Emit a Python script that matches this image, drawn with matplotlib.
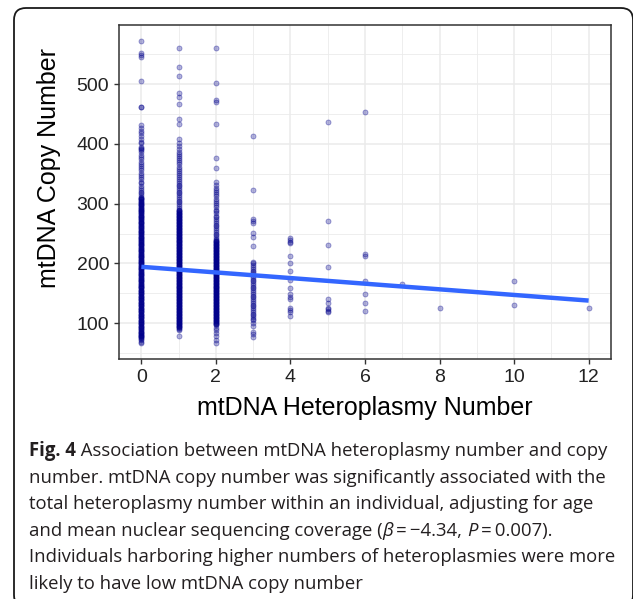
import matplotlib
matplotlib.use("Agg")
import matplotlib.pyplot as plt
from matplotlib.colors import to_rgba
from matplotlib.patches import FancyBboxPatch

# copy number per heteroplasmy count
copy_0 = [573, 552, 549, 546, 505, 462, 461, 431, 426, 421, 418, 414, 409, 404,
          401, 395, 393, 391, 389, 386, 382, 378, 374, 370, 367, 363, 359, 356,
          352, 348, 345, 341, 337, 334, 330, 327, 323, 320, 317, 314,
          311, 310, 309, 308, 307, 306, 304, 303, 302, 301, 300, 299, 298, 297,
          296, 294, 293, 292, 291, 290, 289, 288, 287, 286, 285, 284, 282, 281,
          280, 279, 278, 277, 276, 275, 274, 272, 271, 270, 269, 268, 267, 266,
          264, 263, 262, 261, 260, 259, 258, 256, 255, 254, 253, 252, 251, 250,
          249, 248, 246, 245, 244, 243, 242, 241, 240, 239, 238, 236, 235, 234,
          233, 232, 231, 230, 229, 228, 226, 225, 224, 223, 222, 221, 220, 219,
          218, 216, 215, 214, 213, 212, 211, 210, 209, 208, 206, 205, 204, 203,
          202, 201, 200, 199, 198, 196, 195, 194, 193, 192, 191, 190, 189, 188,
          186, 185, 184, 183, 182, 181, 180, 179, 178, 176, 175, 174, 173, 172,
          171, 170, 169, 168, 166, 165, 164, 163, 162, 161, 160, 159, 158, 156,
          155, 154, 153, 152, 151, 150, 149, 148, 146, 145, 144, 143, 142, 141,
          140, 139, 138, 136, 135, 134, 133, 132, 131, 130, 129, 128, 126, 125,
          124, 123, 122, 121, 120, 119, 118, 116, 115, 114, 113, 112, 111, 110,
          109, 108, 106, 105, 104, 103, 102, 101, 100, 99, 98, 96, 95, 94, 93,
          92, 91, 90, 89, 87, 86, 85, 84, 83, 82, 81, 80, 79, 78, 77, 76, 75,
          74, 72, 69, 66]
copy_1 = [560, 528, 514, 486, 478, 467, 441, 433, 408, 401, 396, 392, 387, 383,
          380, 377, 373, 369, 366, 362, 358, 355, 351, 348, 344, 341, 338, 335,
          332, 329, 326, 323, 320, 317, 314, 311, 308, 305, 302, 299, 296, 293,
          290, 289, 288, 287, 286, 285, 284, 283, 282, 281, 280, 279, 278, 277,
          276, 275, 274, 273, 272, 271, 270, 269, 268, 267, 266, 265, 264, 263,
          262, 261, 260, 259, 258, 257, 256, 255, 254, 253, 252, 251, 250, 249,
          248, 247, 246, 245, 244, 243, 242, 241, 240, 239, 238, 237, 236, 235,
          234, 233, 232, 231, 230, 229, 228, 227, 226, 225, 224, 223, 222, 221,
          220, 219, 218, 217, 216, 215, 214, 213, 212, 211, 210, 209, 208, 207,
          206, 205, 204, 203, 202, 201, 200, 199, 198, 197, 196, 195, 194, 193,
          192, 191, 190, 189, 188, 187, 186, 185, 184, 183, 182, 181, 180, 179,
          178, 177, 176, 175, 174, 173, 172, 171, 170, 169, 168, 167, 166, 165,
          164, 163, 162, 161, 160, 159, 158, 157, 156, 155, 154, 153, 152, 151,
          150, 149, 148, 147, 146, 145, 144, 143, 142, 141, 140, 139, 138, 137,
          136, 135, 134, 133, 132, 131, 130, 129, 128, 127, 126, 125, 124, 123,
          122, 121, 120, 119, 118, 117, 116, 115, 114, 113, 112, 111, 110, 109,
          108, 107, 106, 105, 104, 103, 102, 101, 100, 99, 98, 97, 96, 95, 94,
          93, 92, 91, 89, 78]
copy_2 = [561, 502, 473, 470, 433, 377, 360, 337, 332, 327, 323, 320, 316, 312,
          308, 305, 301, 298, 294, 290, 287, 284, 280, 277, 274, 271, 268, 265,
          262, 259, 256, 253, 250, 247, 244, 241, 239, 238, 237, 236, 235, 234,
          233, 232, 231, 230, 229, 228, 227, 226, 225, 224, 223, 222, 221, 220,
          219, 218, 217, 216, 215, 214, 213, 212, 211, 210, 209, 208, 207, 206,
          205, 204, 203, 202, 201, 200, 199, 198, 197, 196, 195, 194, 193, 192,
          191, 190, 189, 188, 187, 186, 185, 184, 183, 182, 181, 180, 179, 178,
          177, 176, 175, 174, 173, 172, 171, 170, 169, 168, 167, 166, 165, 164,
          163, 162, 161, 160, 159, 158, 157, 156, 155, 154, 153, 152, 151, 150,
          149, 148, 147, 146, 145, 144, 143, 142, 141, 140, 139, 138, 137, 136,
          135, 134, 133, 132, 131, 130, 129, 128, 127, 126, 125, 124, 123, 122,
          121, 120, 119, 118, 117, 116, 115, 114, 113, 112, 111, 110, 109, 108,
          107, 106, 105, 104, 103, 102, 101, 100, 99, 98, 97, 92, 88, 84, 78,
          72, 67]
copy_3 = [413, 323, 275, 271, 268, 251, 244, 229, 203, 200, 197, 194, 191, 188,
          185, 182, 179, 176, 173, 170, 167, 164, 161, 158, 155, 152, 149, 146,
          143, 140, 137, 134, 131, 128, 125, 122, 119, 116, 113, 110, 107, 105,
          101, 95, 86, 82, 76]
copy_4 = [242, 239, 236, 234, 212, 201, 188, 172, 158, 148, 144, 140, 125, 122,
          118, 112]
copy_5 = [436, 271, 231, 194, 141, 133, 126, 124, 121, 118]
copy_6 = [454, 216, 213, 170, 148, 133, 120]
copy_7 = [165]
copy_8 = [125]
copy_10 = [170, 131]
copy_12 = [125]

het_counts = [0, 1, 2, 3, 4, 5, 6, 7, 8, 10, 12]
copy_by_count = [copy_0, copy_1, copy_2, copy_3, copy_4, copy_5, copy_6,
                 copy_7, copy_8, copy_10, copy_12]

# linear fit shown in the figure
fit_intercept = 194.3
fit_slope = -4.71

caption_lines = [
    [("Fig. 4", "bold"), (" Association between mtDNA heteroplasmy number and copy", "normal")],
    [("number. mtDNA copy number was significantly associated with the", "normal")],
    [("total heteroplasmy number within an individual, adjusting for age", "normal")],
    [("and mean nuclear sequencing coverage (", "normal"), ("\u03b2", "italic"),
     ("\u2009=\u2009\u22124.34, ", "normal"), ("P", "italic"), ("\u2009=\u20090.007).", "normal")],
    [("Individuals harboring higher numbers of heteroplasmies were more", "normal")],
    [("likely to have low mtDNA copy number", "normal")],
]

W, H = 633, 599
axis_font = ["Liberation Sans", "DejaVu Sans"]
cap_font = ["Open Sans", "DejaVu Sans"]

fig = plt.figure(figsize=(W / 100, H / 100), dpi=100)

# rounded frame around figure + caption (pixel coords, origin bottom-left)
frame = FancyBboxPatch((14, -8), 619, H - 8 + 8, boxstyle="round,pad=0,rounding_size=12",
                       transform=None, fill=False, edgecolor="#1a1a1a", linewidth=1.3)
fig.patches.append(frame)

ax = fig.add_axes([119 / W, 1 - 359 / H, (611 - 119) / W, (359 - 25) / H])

xs, ys = [], []
for h, vals in zip(het_counts, copy_by_count):
    xs += [h] * len(vals)
    ys += vals

ax.scatter(xs, ys, s=13, facecolors=to_rgba("darkblue", 0.3),
           edgecolors=to_rgba("darkblue", 0.38), linewidths=0.6, zorder=3)
ax.plot([0, 12], [fit_intercept, fit_intercept + 12 * fit_slope],
        color="#3366FF", linewidth=3.2, solid_capstyle="butt", zorder=4)

ax.set_xlim(-0.6, 12.6)
ax.set_ylim(40, 599)
ax.set_xticks(range(0, 13, 2))
ax.set_xticks(range(1, 12, 2), minor=True)
ax.set_yticks([100, 200, 300, 400, 500])
ax.set_yticks([50, 150, 250, 350, 450, 550], minor=True)
ax.grid(which="major", color="#EBEBEB", linewidth=1.1, zorder=0)
ax.grid(which="minor", color="#EBEBEB", linewidth=0.6, zorder=0)
ax.set_axisbelow(True)
for sp in ax.spines.values():
    sp.set_color("#333333")
    sp.set_linewidth(1.1)
ax.tick_params(which="major", length=3.6, width=1, color="#333333", labelsize=14,
               labelcolor="#222222", pad=3.5)
ax.tick_params(which="minor", length=0)
for lab in ax.get_xticklabels() + ax.get_yticklabels():
    lab.set_family(axis_font)

fig.text(365 / W, 1 - 408 / H, "mtDNA Heteroplasmy Number", ha="center", va="center",
         fontsize=18, family=axis_font, color="black")
fig.text(49 / W, 1 - 168 / H, "mtDNA Copy Number", ha="center", va="center",
         rotation=90, fontsize=18, family=axis_font, color="black")

# caption, drawn run by run so bold / italic parts sit inline;
# font size fitted so the first line spans about the same width as in the source
renderer = fig.canvas.get_renderer()
probe = fig.text(0, 0, caption_lines[0][0][0] + caption_lines[0][1][0], fontsize=10,
                 family=cap_font)
cap_size = 10 * 576 / probe.get_window_extent(renderer).width
probe.remove()

baseline = 456
for runs in caption_lines:
    x = 29
    for s, style in runs:
        weight = "bold" if style == "bold" else "normal"
        fstyle = "italic" if style == "italic" else "normal"
        t = fig.text(x / W, 1 - baseline / H, s, ha="left", va="baseline",
                     fontsize=cap_size, family=cap_font, weight=weight, style=fstyle,
                     color="#231f20")
        x += t.get_window_extent(renderer).width
    baseline += 26.6

fig.savefig("out.png", dpi=100)
